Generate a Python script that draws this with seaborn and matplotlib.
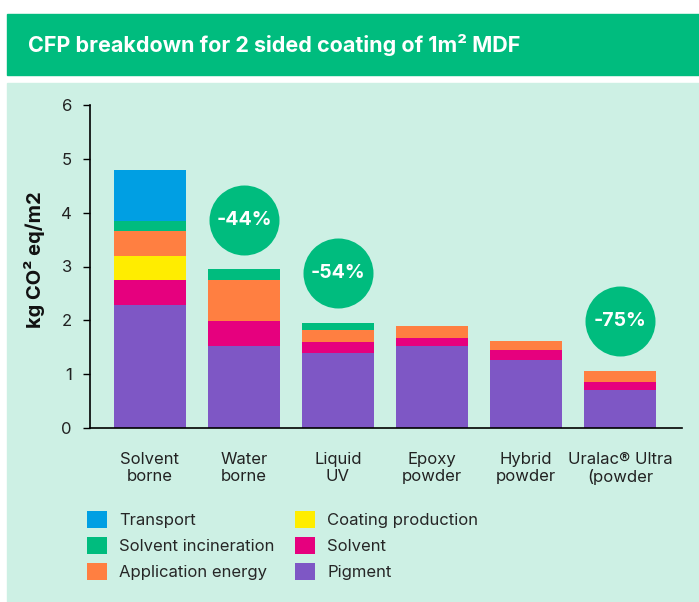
import matplotlib
matplotlib.use("Agg")
import matplotlib.pyplot as plt
import seaborn as sns
import numpy as np
from matplotlib.patches import Rectangle

categories = ["Solvent\nborne", "Water\nborne", "Liquid\nUV", "Epoxy\npowder",
              "Hybrid\npowder", "Uralac\u00ae Ultra\n(powder"]
components = ["Pigment", "Solvent", "Coating production", "Application energy",
              "Solvent incineration", "Transport"]
pigment = [2.28, 1.52, 1.39, 1.52, 1.26, 0.71]
solvent = [0.47, 0.47, 0.21, 0.15, 0.19, 0.14]
coating_production = [0.45, 0.0, 0.0, 0.0, 0.0, 0.0]
application_energy = [0.46, 0.76, 0.22, 0.22, 0.17, 0.21]
solvent_incineration = [0.19, 0.20, 0.13, 0.0, 0.0, 0.0]
transport = [0.94, 0.0, 0.0, 0.0, 0.0, 0.0]
reductions = ["", "-44%", "-54%", "", "", "-75%"]
yticks = [0, 1, 2, 3, 4, 5, 6]

colors = {"Pigment": "#7E57C5", "Solvent": "#E6007E", "Coating production": "#FFED00",
          "Application energy": "#FF7F41", "Solvent incineration": "#00BC7E",
          "Transport": "#009FE3"}
series = [pigment, solvent, coating_production, application_energy,
          solvent_incineration, transport]

sns.set_theme(style="white")
plt.rcParams["font.family"] = ["Inter", "DejaVu Sans"]

W, H = 699, 602
fig = plt.figure(figsize=(W / 100, H / 100), dpi=100)
fig.patch.set_facecolor("white")

# header band and panel
fig.patches.append(Rectangle((7 / W, (H - 75) / H), 1 - 7 / W, 61 / H,
                             transform=fig.transFigure, color="#00BC7E", zorder=-10))
fig.patches.append(Rectangle((7 / W, 0), 1 - 7 / W, (H - 83) / H,
                             transform=fig.transFigure, color="#CDF0E4", zorder=-10))
fig.text(28 / W, (H - 45) / H, "CFP breakdown for 2 sided coating of 1m\u00b2 MDF",
         color="white", fontsize=15.5, fontweight="bold", va="center", ha="left")

ax = fig.add_axes([90 / W, (H - 428) / H, 592 / W, 323 / H])
ax.set_facecolor("none")

bottom = np.zeros(len(categories))
for name, vals in zip(components, series):
    sns.barplot(x=categories, y=vals, bottom=bottom, color=colors[name],
                width=0.766, ax=ax, label=name, saturation=1, linewidth=0)
    bottom = bottom + np.array(vals)

totals = bottom
for i, txt in enumerate(reductions):
    if txt:
        yc = totals[i] + 0.92
        ax.scatter([i], [yc], s=2540, color="#00BC7E", zorder=5, linewidths=0)
        ax.text(i, yc, txt, color="white", fontsize=14, fontweight="bold",
                ha="center", va="center", zorder=6)

ax.set_xlim(-0.638, 5.66)
ax.set_ylim(0, 6)
ax.set_yticks(yticks)
ax.set_yticklabels([str(t) for t in yticks], fontsize=12, color="#222222")
ax.tick_params(axis="y", left=True, length=5, width=1, color="black", pad=8)
ax.tick_params(axis="x", bottom=False, pad=11, labelsize=12, labelcolor="#222222")
for s in ["top", "right"]:
    ax.spines[s].set_visible(False)
for s in ["left", "bottom"]:
    ax.spines[s].set_color("black")
    ax.spines[s].set_linewidth(1.2)
ax.set_xlabel("")
ax.set_ylabel("kg CO\u00b2 eq/m2", fontsize=14.5, fontweight="bold", color="#111111")
ax.yaxis.set_label_coords(-45 / 592, 0.52)

handles, labels = ax.get_legend_handles_labels()
if ax.get_legend() is not None:
    ax.get_legend().remove()
order = ["Transport", "Solvent incineration", "Application energy",
         "Coating production", "Solvent", "Pigment"]
hmap = dict(zip(labels, handles))
fig.legend([hmap[o] for o in order], order, loc="upper left",
           bbox_to_anchor=(87 / W, (H - 511) / H), ncol=2, frameon=False,
           fontsize=12, handlelength=1.2, handleheight=1.2,
           handletextpad=0.72, columnspacing=1.26, labelspacing=0.52,
           borderpad=0, borderaxespad=0)

fig.savefig("out.png", dpi=100)
